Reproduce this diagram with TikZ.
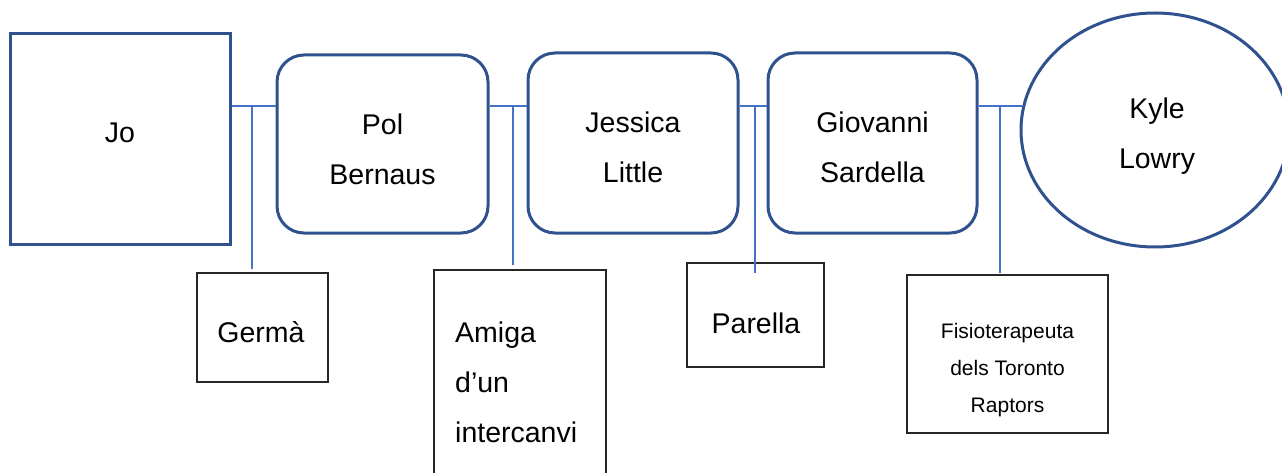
\documentclass[tikz,border=0pt]{standalone}
\usepackage{fontspec}
\setmainfont{Liberation Sans}
\usetikzlibrary{shapes.geometric}
\definecolor{shapeblue}{HTML}{2F528F}
\definecolor{linkblue}{HTML}{4472C4}
\definecolor{boxgray}{HTML}{262626}

\begin{document}
\begin{tikzpicture}[x=1pt,y=-1pt,
  person/.style={draw=shapeblue,line width=3pt,inner sep=0pt},
  roundbox/.style={person,rounded corners=27pt},
  rolebox/.style={draw=boxgray,line width=1.3pt,inner sep=0pt},
  link/.style={draw=linkblue,line width=1.3pt},
  bigtext/.style={font=\fontsize{28.5}{50}\selectfont,align=center,inner sep=0pt,anchor=base},
  smalltext/.style={font=\fontsize{21}{37}\selectfont,align=center,inner sep=0pt,anchor=base}]

\useasboundingbox (0,0) rectangle (1282,473);
\clip (0,0) rectangle (1282,473);

% people along the chain
\node[person,minimum width=220pt,minimum height=210pt] (jo) at (120,139) {};
\node[roundbox,minimum width=211pt,minimum height=178pt] (pol) at (382.5,144) {};
\node[roundbox,minimum width=210pt,minimum height=180pt] (jessica) at (633,143) {};
\node[roundbox,minimum width=209pt,minimum height=180pt] (giovanni) at (872.5,143) {};
\node[person,ellipse,minimum width=268pt,minimum height=234pt] (kyle) at (1155,130) {};

\node[bigtext] (jo text) at (120,143) {Jo};
\node[bigtext] (pol text) at (382.5,185) {Pol\\Bernaus};
\node[bigtext] (jessica text) at (633,183) {Jessica\\Little};
\node[bigtext] (giovanni text) at (872.5,183) {Giovanni\\Sardella};
\node[bigtext] (kyle text) at (1157,169) {Kyle\\Lowry};

% relation boxes
\node[rolebox,minimum width=131pt,minimum height=109pt] (germa) at (262.5,327.5) {};
\node[rolebox,minimum width=172pt,minimum height=212pt] (amiga) at (520,376) {};
\node[rolebox,minimum width=137pt,minimum height=104pt] (parella) at (755.5,315) {};
\node[rolebox,minimum width=201pt,minimum height=158pt] (fisio) at (1007.5,354) {};

\node[bigtext] (germa text) at (261,342) {Germà};
\node[bigtext,align=left,anchor=base west] (amiga text) at (455,442) {Amiga\\d’un\\intercanvi};
\node[bigtext] (parella text) at (756,333) {Parella};
\node[smalltext] (fisio text) at (1007.5,412) {Fisioterapeuta\\dels Toronto\\Raptors};

% connectors
\coordinate (bus) at (0,106);
\coordinate (drop1) at (252,269);
\coordinate (drop2) at (513,265);
\coordinate (drop3) at (755,273);
\coordinate (drop4) at (1000,273);

\draw[link] (jo.east |- bus) -- (pol.west |- bus);
\draw[link] (pol.east |- bus) -- (jessica.west |- bus);
\draw[link] (jessica.east |- bus) -- (giovanni.west |- bus);
\draw[link] (giovanni.east |- bus) -- (kyle.170 |- bus);

\draw[link] (drop1 |- bus) -- (drop1);
\draw[link] (drop2 |- bus) -- (drop2);
\draw[link] (drop3 |- bus) -- (drop3);
\draw[link] (drop4 |- bus) -- (drop4);
\end{tikzpicture}
\end{document}
